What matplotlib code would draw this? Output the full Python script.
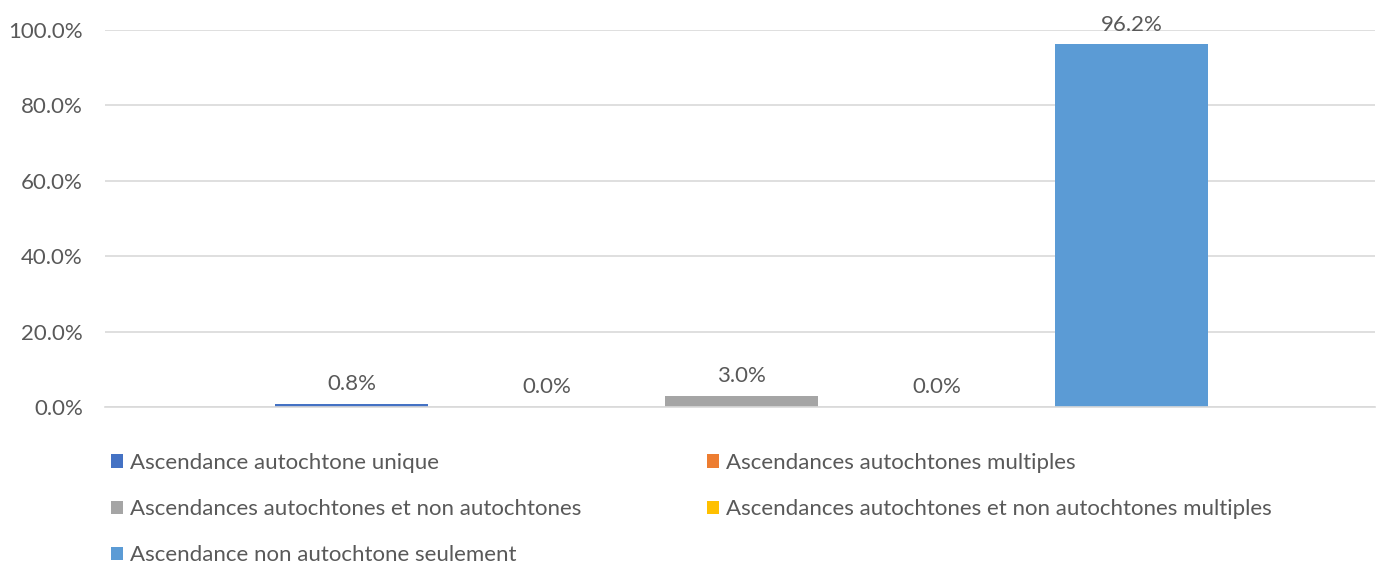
import matplotlib.pyplot as plt
import numpy as np

plt.rcParams['font.family'] = ['Lato', 'DejaVu Sans']

series = [
    'Ascendance autochtone unique',
    'Ascendances autochtones multiples',
    'Ascendances autochtones et non autochtones',
    'Ascendances autochtones et non autochtones multiples',
    'Ascendance non autochtone seulement',
]
values = [0.8, 0.0, 3.0, 0.0, 96.2]
colors = ['#4472c4', '#ed7d31', '#a5a5a5', '#ffc000', '#5b9bd5']
yticks = [0, 20, 40, 60, 80, 100]

TXT = '#595959'
GRID = '#d9d9d9'
FS = 16


def do_plot():
    fig = plt.figure(figsize=(13.77, 5.67), dpi=100)
    ax = fig.add_axes([105 / 1377, 1 - 407 / 567, 1270 / 1377, 377 / 567])

    x = np.arange(len(values))
    bars = ax.bar(x, values, width=153 / 195, color=colors)
    for xi, v in zip(x, values):
        ax.annotate('%.1f%%' % v, (xi, v), xytext=(0, 7), textcoords='offset points',
                    ha='center', va='bottom', fontsize=FS, color=TXT)

    ax.set_xlim(-1.264, 5.249)
    ax.set_ylim(0, 100)
    ax.set_yticks(yticks)
    ax.set_yticklabels(['%.1f%%' % t for t in yticks])
    ax.set_xticks([])
    ax.tick_params(axis='y', length=0, labelsize=FS, labelcolor=TXT, pad=16)
    ax.grid(axis='y', color=GRID, linewidth=1.2)
    ax.set_axisbelow(True)
    for s in ['top', 'right', 'left']:
        ax.spines[s].set_visible(False)
    ax.spines['bottom'].set_color(GRID)
    ax.spines['bottom'].set_linewidth(1.2)

    kw = dict(frameon=False, fontsize=FS, handlelength=0.55, handleheight=0.55,
              handletextpad=0.3, labelspacing=1.18, borderaxespad=0, borderpad=0,
              labelcolor=TXT)
    left = [0, 2, 4]
    right = [1, 3]
    fig.legend([bars[i] for i in left], [series[i] for i in left],
               loc='upper left', bbox_to_anchor=(111 / 1377, 1 - 453 / 567), **kw)
    fig.legend([bars[i] for i in right], [series[i] for i in right],
               loc='upper left', bbox_to_anchor=(707 / 1377, 1 - 453 / 567), **kw)

    plt.savefig('out.png', dpi=100)


if __name__ == '__main__':
    do_plot()
